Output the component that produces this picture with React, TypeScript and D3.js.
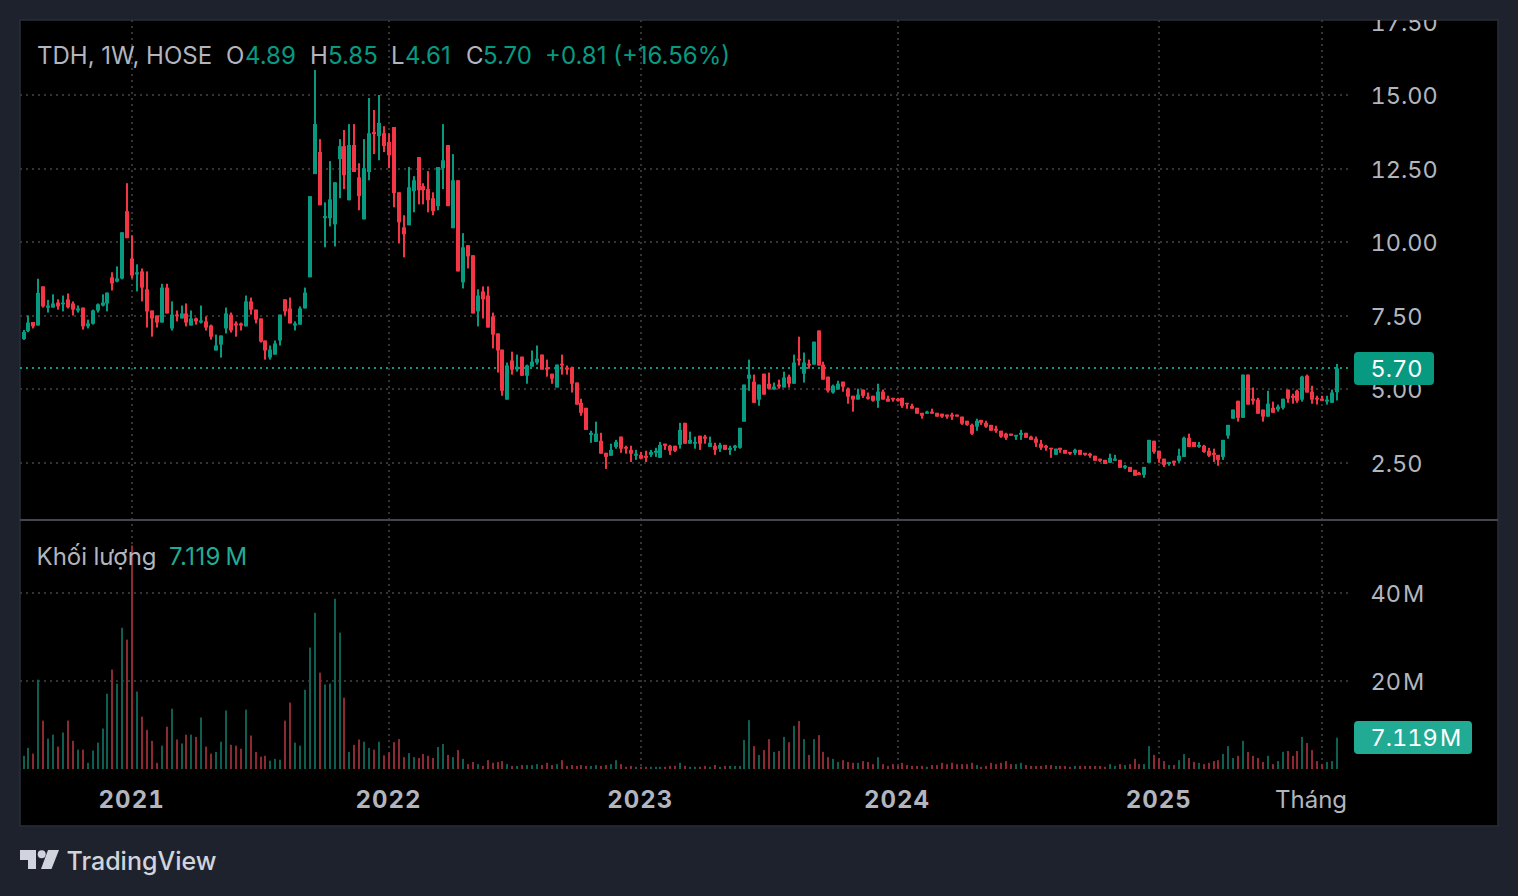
import React, { useEffect, useRef } from 'react';
import * as d3 from 'd3';

// weekly candles as [open, high, low, close]
const candles2020 = [
  [6.70,7.01,6.67,6.94],[6.97,7.50,6.93,7.26],[7.28,7.28,7.06,7.13],[7.16,8.75,7.16,8.27],[8.49,8.49,7.77,7.81],
  [7.76,8.03,7.60,7.84],[7.77,8.22,7.77,7.91],[7.94,8.05,7.70,7.81],[7.88,8.18,7.64,7.94],[8.05,8.25,7.74,7.78],
  [7.91,7.98,7.50,7.70],[7.67,7.84,7.60,7.74],[7.77,7.77,7.02,7.13],[7.13,7.36,7.06,7.23],[7.22,7.70,7.19,7.67],
  [7.67,7.91,7.60,7.88],[7.84,8.22,7.81,7.94],[7.91,8.28,7.64,8.28],[8.80,8.97,8.35,8.59],[8.66,9.17,8.63,8.76],
  [8.76,10.33,8.73,10.33],[11.05,12.00,10.13,10.13],
];
const candles2021 = [
  [9.44,10.23,8.76,8.86],[8.90,9.24,8.32,8.97],[9.00,9.10,7.98,8.45],[8.39,9.00,7.09,7.64],[7.67,7.67,6.78,7.40],
  [7.50,7.50,7.09,7.26],[7.26,8.58,7.26,8.45],[8.45,8.58,7.57,7.57],[7.06,7.98,6.99,7.53],[7.53,7.67,7.30,7.47],
  [7.40,7.84,7.40,7.57],[7.57,7.91,7.13,7.26],[7.16,7.67,7.16,7.40],[7.40,7.43,7.19,7.30],[7.26,7.84,7.23,7.33],
  [7.30,7.47,6.99,7.09],[7.16,7.19,6.68,6.78],[6.31,6.85,6.31,6.48],[6.51,6.82,6.07,6.82],[7.06,7.77,6.89,7.57],
  [7.53,7.60,6.92,6.99],[7.23,7.30,6.78,7.16],[7.23,7.26,6.99,7.16],[7.13,8.18,7.13,7.98],[7.98,8.11,7.53,7.70],
  [7.70,7.70,7.23,7.36],[7.40,7.40,6.58,6.61],[6.65,6.65,6.00,6.31],[6.07,6.48,6.00,6.34],[6.17,6.65,6.17,6.55],
  [6.65,7.53,6.48,7.53],[8.05,8.05,7.50,7.64],[7.74,8.11,7.23,7.23],[7.16,7.30,6.99,7.23],[7.19,7.81,7.19,7.74],
  [7.74,8.45,7.74,8.28],[8.80,11.56,8.80,11.56],[12.31,15.85,12.31,14.01],[13.06,13.50,11.25,11.25],[10.81,11.35,9.82,10.88],
  [10.81,12.75,10.53,11.45],[10.60,12.03,9.85,12.03],[12.82,13.50,11.49,13.26],[13.26,13.81,11.80,12.27],[11.42,14.01,11.42,13.30],
  [13.30,14.01,12.38,12.38],[12.20,12.68,11.08,11.56],[10.77,13.50,10.77,12.51],[12.38,14.90,12.10,13.70],[13.74,14.49,12.99,13.67],
  [13.60,15.00,12.78,14.05],[13.70,13.94,13.06,13.26],
];
const candles2022 = [
  [13.40,13.70,12.51,12.95],[13.91,13.91,11.18,11.66],[11.69,11.69,9.95,10.67],[10.50,10.91,9.48,10.26],[10.57,12.55,10.57,11.86],
  [11.73,12.24,11.01,12.10],[12.89,12.89,11.28,11.76],[11.90,12.00,11.28,11.76],[11.80,12.41,11.01,11.42],[11.49,11.69,10.91,11.05],
  [11.22,12.55,11.08,12.55],[12.51,14.01,11.80,12.78],[13.30,13.30,11.22,11.22],[10.47,12.99,10.47,12.10],[12.10,12.10,9.00,9.00],
  [8.63,10.30,8.42,9.82],[9.89,9.89,9.10,9.51],[9.55,9.55,7.57,7.57],[7.64,8.39,7.13,8.18],[8.32,8.49,7.40,8.05],
  [8.18,8.49,7.09,7.09],[7.47,7.60,6.38,6.85],[6.89,6.89,5.56,6.31],[6.34,6.34,4.77,4.94],[4.64,5.90,4.64,5.80],
  [5.97,6.27,5.49,5.66],[5.66,6.17,5.59,5.76],[6.10,6.10,5.45,5.45],[5.45,5.83,5.18,5.80],[5.76,6.31,5.76,5.93],
  [5.90,6.48,5.83,6.03],[6.17,6.17,5.66,5.66],[5.73,6.00,5.42,5.66],[5.52,5.52,5.18,5.35],[5.05,5.83,5.05,5.83],
  [5.86,6.17,5.49,5.80],[5.73,5.80,5.49,5.66],[5.73,5.76,4.88,5.18],[5.22,5.22,4.47,4.47],[4.53,4.67,4.09,4.19],
  [4.36,4.36,3.61,3.61],[3.44,3.58,3.17,3.51],[3.20,3.89,3.20,3.48],[3.24,3.51,2.80,2.80],[2.83,2.83,2.28,2.69],
  [2.73,3.14,2.73,2.93],[3.03,3.27,2.97,3.20],[3.38,3.38,2.83,2.97],[3.03,3.07,2.80,2.97],[2.93,3.07,2.52,2.80],
  [2.73,2.93,2.59,2.80],
];
const candles2023 = [
  [2.76,2.86,2.63,2.63],[2.73,2.90,2.52,2.66],[2.76,2.93,2.69,2.86],[2.83,3.00,2.69,2.90],[2.66,3.20,2.66,3.10],
  [3.14,3.14,2.93,3.07],[3.07,3.10,2.76,2.90],[3.07,3.07,2.86,2.90],[3.10,3.85,2.97,3.61],[3.85,3.85,3.14,3.14],
  [3.14,3.55,3.14,3.27],[3.14,3.38,2.97,3.20],[3.41,3.41,2.93,3.14],[3.38,3.44,3.14,3.31],[3.03,3.38,3.03,3.17],
  [3.07,3.17,2.76,2.93],[2.97,3.17,2.86,3.10],[3.10,3.10,2.93,2.93],[2.93,3.07,2.76,3.00],[3.00,3.10,2.90,3.07],
  [3.00,3.68,2.97,3.68],[3.89,5.15,3.89,5.15],[5.35,6.00,4.94,5.49],[5.25,5.49,4.53,4.53],[4.64,5.15,4.43,5.15],
  [5.52,5.52,4.81,4.81],[5.18,5.56,4.98,5.01],[4.98,5.22,4.98,5.08],[5.15,5.32,5.01,5.08],[5.05,5.59,5.05,5.39],
  [5.42,5.49,5.05,5.18],[5.18,6.17,5.18,5.90],[6.03,6.78,5.80,5.97],[5.52,6.24,5.22,5.90],[5.86,6.00,5.69,5.80],
  [5.83,6.61,5.83,6.61],[6.99,6.99,5.80,5.80],[5.83,5.93,5.32,5.32],[5.42,5.42,4.88,4.94],[4.88,5.15,4.84,5.11],
  [4.98,5.28,4.98,5.18],[5.25,5.25,4.91,5.08],[5.01,5.05,4.50,4.74],[4.77,4.77,4.23,4.64],[4.64,5.01,4.64,4.81],
  [4.98,4.98,4.70,4.77],[4.74,4.88,4.64,4.67],[4.77,4.77,4.57,4.60],[4.60,5.18,4.36,4.91],[4.91,4.98,4.64,4.64],
  [4.67,4.77,4.57,4.57],[4.70,4.70,4.57,4.64],
];
const candles2024 = [
  [4.67,4.70,4.57,4.60],[4.70,4.70,4.36,4.43],[4.53,4.53,4.33,4.50],[4.43,4.50,4.33,4.33],[4.36,4.36,4.16,4.16],
  [4.19,4.19,3.99,4.09],[4.16,4.26,4.16,4.23],[4.23,4.33,4.16,4.16],[4.19,4.19,4.06,4.06],[4.16,4.16,4.02,4.06],
  [4.13,4.13,3.99,4.06],[4.13,4.19,3.95,4.06],[4.13,4.13,4.06,4.06],[4.06,4.06,3.78,3.82],[3.92,3.92,3.75,3.78],
  [3.78,3.82,3.44,3.48],[3.72,3.99,3.58,3.92],[3.95,3.95,3.78,3.85],[3.85,3.92,3.68,3.72],[3.78,3.78,3.58,3.58],
  [3.65,3.75,3.51,3.58],[3.58,3.58,3.34,3.38],[3.48,3.51,3.27,3.34],[3.48,3.48,3.41,3.41],[3.38,3.44,3.27,3.44],
  [3.44,3.61,3.27,3.51],[3.51,3.51,3.34,3.34],[3.38,3.41,3.27,3.27],[3.31,3.38,3.03,3.17],[3.14,3.27,2.93,3.00],
  [3.07,3.10,2.90,3.00],[3.00,3.00,2.66,2.97],[2.76,2.97,2.76,2.97],[3.00,3.00,2.83,2.93],[2.93,2.93,2.80,2.80],
  [2.86,2.86,2.76,2.80],[2.83,2.97,2.76,2.93],[2.93,2.93,2.76,2.76],[2.83,2.83,2.73,2.76],[2.80,2.83,2.66,2.73],
  [2.73,2.73,2.56,2.56],[2.63,2.63,2.52,2.56],[2.59,2.59,2.45,2.45],[2.49,2.80,2.49,2.66],[2.56,2.76,2.56,2.63],
  [2.59,2.59,2.32,2.32],[2.32,2.42,2.28,2.39],[2.35,2.35,2.18,2.18],[2.25,2.25,2.05,2.05],[2.15,2.18,2.08,2.08],
  [2.08,2.35,1.98,2.35],[2.49,3.27,2.49,3.27],[3.24,3.24,2.80,2.86],
];
const candles2025 = [
  [2.90,2.90,2.49,2.63],[2.63,2.63,2.35,2.42],[2.45,2.52,2.39,2.52],[2.56,2.56,2.39,2.49],[2.56,2.97,2.49,2.73],
  [2.69,3.38,2.69,3.34],[3.34,3.48,3.03,3.03],[3.20,3.20,3.03,3.03],[3.03,3.20,3.00,3.10],[3.07,3.10,2.83,2.86],
  [2.90,3.00,2.69,2.73],[2.83,2.97,2.52,2.76],[2.76,2.76,2.39,2.59],[2.69,3.27,2.59,3.27],[3.41,3.78,3.31,3.78],
  [3.99,4.30,3.99,4.30],[4.60,4.60,3.89,4.02],[4.02,5.49,4.02,5.49],[5.49,5.49,4.47,4.47],[4.67,5.05,4.47,4.60],
  [4.64,4.70,4.16,4.16],[4.30,4.30,3.89,4.06],[4.06,4.94,4.06,4.50],[4.36,4.57,4.19,4.19],[4.30,4.47,4.23,4.40],
  [4.36,4.67,4.30,4.67],[4.98,4.98,4.53,4.67],[4.77,4.84,4.50,4.70],[4.94,4.98,4.53,4.60],[4.64,5.45,4.57,5.42],
  [5.45,5.49,4.88,4.88],[4.91,5.11,4.50,4.64],[4.70,4.77,4.47,4.64],[4.67,4.77,4.60,4.60],[4.57,4.77,4.47,4.64],
  [4.53,4.98,4.53,4.88],[4.89,5.85,4.61,5.70],
];

// weekly volume in millions
const volume2020 = [3.0,4.8,3.5,20.3,11.0,6.9,7.8,5.1,8.3,11.0,6.4,4.4,4.4,1.4,4.2,6.0,9.2,17.1,22.6,19.4,32.1,29.4];
const volume2021 = [
  50.8,17.6,11.9,8.9,6.4,1.4,5.3,9.6,13.7,6.7,5.8,7.8,7.8,7.3,11.7,5.1,3.5,3.9,6.2,13.3,5.5,5.3,4.6,13.5,7.6,3.9,
  2.8,3.0,1.9,2.3,2.1,11.0,15.1,6.0,5.3,18.0,27.6,35.5,21.9,19.2,19.4,38.7,31.0,16.2,3.9,5.5,6.7,6.2,4.8,4.4,6.2,3.1,
];
const volume2022 = [
  3.8,6.1,6.8,2.7,3.6,2.7,2.5,3.4,3.0,2.5,5.0,5.7,3.2,2.7,4.3,2.3,1.1,1.6,1.1,0.7,2.0,1.4,1.6,1.8,1.1,0.7,
  0.7,0.9,0.9,0.9,1.1,0.9,1.4,0.9,1.1,2.0,0.7,0.9,0.7,0.9,0.7,0.7,0.9,0.7,0.9,1.1,2.0,1.1,0.5,0.7,0.5,
];
const volume2023 = [
  0.5,0.5,0.5,0.5,0.5,0.5,0.7,0.7,1.4,0.7,0.5,0.5,0.5,0.7,0.5,0.9,0.5,0.7,0.7,0.7,0.7,6.6,11.1,5.2,3.2,4.3,
  6.8,3.9,4.1,7.3,6.1,9.8,10.9,6.8,3.2,6.8,7.7,3.9,2.7,2.3,1.6,2.0,1.6,1.4,1.4,1.8,1.6,1.1,2.7,1.1,0.7,1.1,
];
const volume2024 = [
  0.8,1.4,0.9,0.7,0.7,0.7,0.5,0.9,0.9,1.4,1.1,1.4,1.1,1.1,1.1,1.4,0.9,0.5,0.7,1.4,1.1,1.4,1.8,1.1,1.1,1.4,0.9,
  0.7,0.7,0.7,0.9,0.9,0.7,0.7,0.7,0.5,0.7,0.7,0.7,0.7,0.7,0.7,0.5,1.1,0.7,1.1,0.9,1.1,2.3,1.1,1.1,5.2,3.2,
];
const volume2025 = [
  2.5,1.8,0.9,0.9,2.0,3.4,2.5,1.6,1.4,1.1,1.4,1.8,2.0,3.4,5.2,2.5,3.0,6.4,3.9,3.0,2.5,1.6,3.0,1.1,1.8,3.9,4.1,
  3.0,4.1,7.3,5.9,4.3,1.8,1.1,1.6,1.8,7.119,
];

const priceTicks = [2.5, 5, 7.5, 10, 12.5, 15, 17.5];
const volumeTicks = [20, 40];
const timeTickWeeks = [22, 74, 125, 177, 230, 263];
const timeTickLabels = ['2021', '2022', '2023', '2024', '2025', ''];

const upColor = '#089981';
const downColor = '#f23645';
const textColor = '#b2b5be';
const gridColor = '#343434';
const fontFamily = 'Inter, "Noto Sans", sans-serif';
const hairSpace = '\u200a';
const axisFontSize = 23.5;

export default function App() {
  const svgRef = useRef<SVGSVGElement | null>(null);

  useEffect(() => {
    if (!svgRef.current) return;

    const candles = [...candles2020, ...candles2021, ...candles2022, ...candles2023, ...candles2024, ...candles2025];
    const volumes = [...volume2020, ...volume2021, ...volume2022, ...volume2023, ...volume2024, ...volume2025];
    const last = candles[candles.length - 1];

    const svg = d3.select(svgRef.current);
    svg.selectAll('*').remove();

    const x = d3.scaleLinear().domain([0, candles.length - 1]).range([23.5, 1337]);
    const xr = (i: number) => Math.round(x(i));
    const y = d3.scaleLinear().domain([2.5, 15]).range([462.5, 95]);
    const yv = d3.scaleLinear().domain([0, 40]).range([769, 593]);
    const isUp = (c: number[]) => c[3] >= c[0];

    svg.append('rect').attr('width', 1518).attr('height', 896).attr('fill', '#1e222d');
    svg.append('clipPath').attr('id', 'panel').append('rect').attr('x', 20).attr('y', 20).attr('width', 1478).attr('height', 806);
    svg.append('rect').attr('x', 20).attr('y', 20).attr('width', 1478).attr('height', 806).attr('fill', '#000').attr('stroke', '#2a2e39').attr('stroke-width', 1.5);

    const root = svg.append('g').attr('clip-path', 'url(#panel)').attr('font-family', fontFamily).style('font-variant-numeric', 'tabular-nums');

    const dotted = (g: d3.Selection<any, any, any, any>, color: string) =>
      g.attr('stroke', color).attr('stroke-width', 2).attr('stroke-dasharray', '2 4');

    // grid
    dotted(root.append('g'), gridColor).selectAll('line').data(priceTicks.slice(0, 6)).join('line')
      .attr('x1', 20).attr('x2', 1352).attr('y1', d => Math.round(y(d))).attr('y2', d => Math.round(y(d)));
    dotted(root.append('g'), gridColor).selectAll('line').data(volumeTicks).join('line')
      .attr('x1', 20).attr('x2', 1352).attr('y1', d => Math.round(yv(d))).attr('y2', d => Math.round(yv(d)));
    dotted(root.append('g'), gridColor).selectAll('line').data(timeTickWeeks).join('line')
      .attr('x1', d => xr(d)).attr('x2', d => xr(d)).attr('y1', 20).attr('y2', 770);

    // pane divider
    root.append('line').attr('x1', 20).attr('x2', 1498).attr('y1', 520).attr('y2', 520).attr('stroke', '#434651').attr('stroke-width', 2);

    // last price line
    dotted(root.append('line'), upColor).attr('x1', 20).attr('x2', 1352).attr('y1', Math.round(y(last[3]))).attr('y2', Math.round(y(last[3])));

    // volume bars
    root.append('g').selectAll('rect').data(volumes).join('rect')
      .attr('x', (_, i) => xr(i) - 1).attr('width', 2)
      .attr('y', d => yv(d)).attr('height', d => yv(0) - yv(d))
      .attr('fill', (_, i) => (isUp(candles[i]) ? '#0d5f52' : '#8c2a33'));

    // candles
    const candle = root.append('g').selectAll('g').data(candles).join('g')
      .attr('fill', d => (isUp(d) ? upColor : downColor));
    candle.append('rect')
      .attr('x', (_, i) => xr(i) - 1).attr('width', 2)
      .attr('y', d => y(d[1])).attr('height', d => y(d[2]) - y(d[1]));
    candle.append('rect')
      .attr('x', (_, i) => xr(i) - 2).attr('width', 4)
      .attr('y', d => y(Math.max(d[0], d[3])))
      .attr('height', d => Math.max(1.5, Math.abs(y(d[0]) - y(d[3]))));

    // price axis
    const priceAxis = d3.axisRight(y).tickValues(priceTicks).tickSize(0).tickPadding(0).tickFormat(d => (+d).toFixed(2));
    const volumeAxis = d3.axisRight(yv).tickValues(volumeTicks).tickSize(0).tickPadding(0).tickFormat(d => `${d}${hairSpace}M`);
    [priceAxis, volumeAxis].forEach(axis => {
      const g = root.append('g').attr('transform', 'translate(1370.5,1)').call(axis as any);
      g.select('.domain').remove();
      g.selectAll('text').attr('fill', textColor).attr('font-size', axisFontSize).attr('font-family', fontFamily);
    });

    // time axis
    const timeAxis = d3.axisBottom(x)
      .tickValues(timeTickWeeks).tickSize(0).tickPadding(0).tickFormat((_, i) => timeTickLabels[i]);
    const tg = root.append('g').attr('transform', 'translate(-1,791)').call(timeAxis as any);
    tg.select('.domain').remove();
    tg.selectAll('text').attr('fill', textColor).attr('font-size', 24).attr('font-weight', 700).attr('letter-spacing', 1).attr('font-family', fontFamily);
    root.append('text').attr('x', 1311).attr('y', 799).attr('text-anchor', 'middle').attr('dominant-baseline', 'central')
      .attr('fill', textColor).attr('font-size', 24).text('Tháng');

    const lastVolume = `${volumes[volumes.length - 1].toFixed(3)}${hairSpace}M`;

    // last value tags
    root.append('rect').attr('x', 1354).attr('y', 352).attr('width', 80).attr('height', 33).attr('rx', 4).attr('fill', upColor);
    root.append('text').attr('x', 1370.5).attr('y', 368.5).attr('dominant-baseline', 'central').attr('fill', '#fff').attr('font-size', axisFontSize).text(last[3].toFixed(2));
    root.append('rect').attr('x', 1354).attr('y', 721).attr('width', 118).attr('height', 33).attr('rx', 4).attr('fill', '#22ab94');
    root.append('text').attr('x', 1370.5).attr('y', 737.5).attr('dominant-baseline', 'central').attr('fill', '#fff').attr('font-size', axisFontSize).text(lastVolume);

    // legend
    const change = last[3] - last[0];
    const changeText = `+${change.toFixed(2)} (+${((change / last[0]) * 100).toFixed(2)}%)`;
    const legend: [string, number, string][] = [
      ['TDH, 1W, HOSE', 37, textColor],
      ['O', 226, textColor], [last[0].toFixed(2), 245, upColor],
      ['H', 310, textColor], [last[1].toFixed(2), 328, upColor],
      ['L', 391, textColor], [last[2].toFixed(2), 405, upColor],
      ['C', 466, textColor], [last[3].toFixed(2), 483, upColor],
      [changeText, 545, upColor],
    ];
    root.append('g').selectAll('text').data(legend).join('text')
      .attr('x', d => d[1]).attr('y', 55.5).attr('dominant-baseline', 'central')
      .attr('font-size', 24).attr('fill', d => d[2]).style('font-variant-numeric', 'normal').text(d => d[0]);
    root.append('text').attr('x', 36.5).attr('y', 556.5).attr('dominant-baseline', 'central').attr('font-size', 24).attr('fill', textColor).text('Khối lượng');
    root.append('text').attr('x', 169).attr('y', 556.5).attr('dominant-baseline', 'central').attr('font-size', 24).attr('letter-spacing', 0.4).attr('fill', '#22ab94').style('font-variant-numeric', 'normal')
      .text(`${volumes[volumes.length - 1].toFixed(3)}\u2009M`);

    // TradingView mark
    const logo = svg.append('g').attr('fill', '#d1d4dc');
    logo.append('path').attr('d', 'M20 850H36V869H28V860H20Z');
    logo.append('circle').attr('cx', 41.7).attr('cy', 854.3).attr('r', 4);
    logo.append('path').attr('d', 'M48 850H59L51.5 869H41Z');
    svg.append('text').attr('x', 66.5).attr('y', 861).attr('dominant-baseline', 'central')
      .attr('font-family', fontFamily).attr('font-size', 25).attr('font-weight', 500).attr('fill', '#d1d4dc').text('TradingView');
  }, []);

  return <svg ref={svgRef} width={1518} height={896} style={{ position: 'fixed', left: 0, top: 0 }}></svg>;
}
